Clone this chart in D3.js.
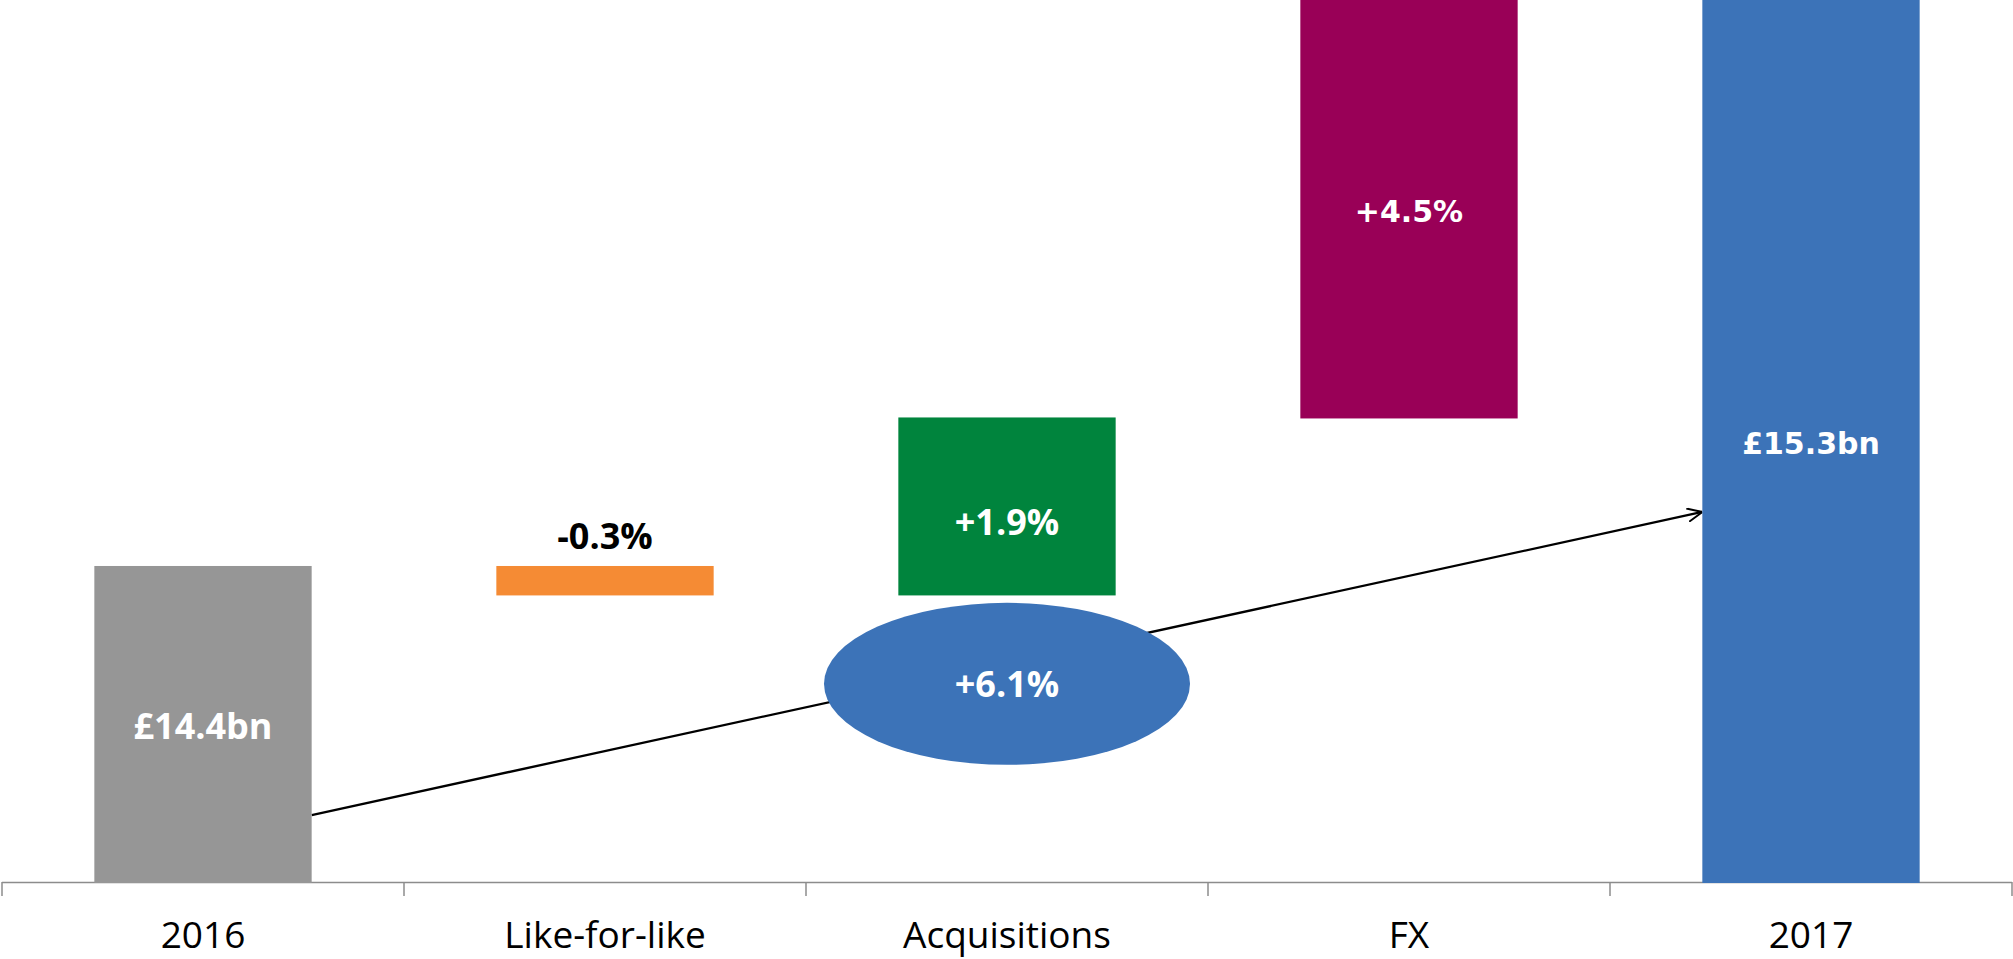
<!DOCTYPE html>
<html>
<head>
<meta charset="utf-8">
<script src="https://cdn.jsdelivr.net/npm/d3@7"></script>
<style>
  body { margin: 0; background: #fff; }
  svg { display: block; }
</style>
</head>
<body>
<div id="chart"></div>
<script>
// 数据（柱的高度是示意值，与标签数值并不成比例）
const categories = ['2016', 'Like-for-like', 'Acquisitions', 'FX', '2017'];
const barStart = [0, 100, 91, 147, 0];
const barEnd = [100, 91, 147, 300, 300];
const barLabels = ['£14.4bn', '-0.3%', '+1.9%', '+4.5%', '£15.3bn'];
const barColors = ['#969696', '#F58B34', '#00843D', '#990057', '#3C73B8'];

// 总增长（椭圆）与箭头
const totalLabel = '+6.1%';
const totalCategory = 'Acquisitions';
const totalLevel = 62.7;
const arrowFrom = 21.2;
const arrowTo = 117.1;

const width = 2013;
const height = 959;
const baseY = 882;

const svg = d3.select('#chart')
  .append('svg')
  .attr('width', width)
  .attr('height', height);

const x = d3.scaleBand()
  .domain(categories)
  .range([2, 2012])
  .paddingInner(0.4594)
  .paddingOuter(0.2297);

const y = d3.scaleLinear()
  .domain([0, 279.1])
  .range([baseY, 0])
  .clamp(true);

const bw = x.bandwidth();

// 坐标轴
const axisColor = '#8c8c8c';
svg.append('line')
  .attr('x1', x.range()[0]).attr('x2', x.range()[1])
  .attr('y1', baseY + 0.5).attr('y2', baseY + 0.5)
  .attr('stroke', axisColor)
  .attr('stroke-width', 1.5);

svg.append('g')
  .selectAll('line')
  .data(d3.range(categories.length + 1))
  .enter()
  .append('line')
  .attr('x1', i => x.range()[0] + i * x.step())
  .attr('x2', i => x.range()[0] + i * x.step())
  .attr('y1', baseY)
  .attr('y2', baseY + 14)
  .attr('stroke', axisColor)
  .attr('stroke-width', 1.5);

const axis = svg.append('g')
  .attr('transform', `translate(0,${baseY})`)
  .call(d3.axisBottom(x).tickSize(0).tickPadding(40));
axis.select('.domain').remove();
axis.selectAll('text')
  .attr('fill', '#000')
  .style('font-family', '"Open Sans", sans-serif')
  .style('font-size', '37px');

// 箭头线
svg.append('defs').append('marker')
  .attr('id', 'arrowhead')
  .attr('viewBox', '0 -5 10 10')
  .attr('refX', 10)
  .attr('refY', 0)
  .attr('orient', 'auto')
  .attr('markerWidth', 6.5)
  .attr('markerHeight', 6.5)
  .append('path')
  .attr('d', 'M 0,-4.5 L 10,0 L 0,4.5')
  .attr('fill', 'none')
  .attr('stroke', '#000')
  .attr('stroke-width', 1.3);

svg.append('line')
  .attr('x1', x('2016') + bw)
  .attr('y1', y(arrowFrom))
  .attr('x2', x('2017'))
  .attr('y2', y(arrowTo))
  .attr('stroke', '#000')
  .attr('stroke-width', 2.3)
  .attr('marker-end', 'url(#arrowhead)');

// 柱
const bars = categories.map((c, i) => ({
  cat: c,
  lo: Math.min(barStart[i], barEnd[i]),
  hi: Math.max(barStart[i], barEnd[i]),
  label: barLabels[i],
  color: barColors[i]
}));

svg.append('g')
  .selectAll('rect')
  .data(bars)
  .enter()
  .append('rect')
  .attr('x', d => x(d.cat))
  .attr('y', d => y(d.hi))
  .attr('width', bw)
  .attr('height', d => y(d.lo) - y(d.hi) + 1)
  .attr('fill', d => d.color);

// 椭圆
const cx = x(totalCategory) + bw / 2;
svg.append('ellipse')
  .attr('cx', cx)
  .attr('cy', y(totalLevel))
  .attr('rx', 183)
  .attr('ry', 81)
  .attr('fill', '#3C73B8');

svg.append('text')
  .attr('x', cx)
  .attr('y', y(totalLevel))
  .attr('dy', '0.36em')
  .attr('text-anchor', 'middle')
  .attr('fill', '#fff')
  .style('font-family', '"Open Sans", sans-serif')
  .style('font-weight', 700)
  .style('font-size', '36px')
  .text(totalLabel);

// 柱标签
const verdanaLike = new Set(['FX', '2017']);
svg.append('g')
  .selectAll('text')
  .data(bars)
  .enter()
  .append('text')
  .attr('x', d => x(d.cat) + bw / 2)
  .attr('y', d => {
    if (d.cat === 'Like-for-like') return y(d.hi) - 30;
    const mid = (y(d.lo) + y(d.hi)) / 2;
    return d.cat === 'Acquisitions' ? mid + 16 : mid + 2;
  })
  .attr('dy', '0.36em')
  .attr('text-anchor', 'middle')
  .attr('fill', d => d.cat === 'Like-for-like' ? '#000' : '#fff')
  .style('font-family', d => verdanaLike.has(d.cat) ? '"DejaVu Sans", sans-serif' : '"Open Sans", sans-serif')
  .style('font-weight', 700)
  .style('font-size', d => verdanaLike.has(d.cat) ? '30px' : '36px')
  .text(d => d.label);
</script>
</body>
</html>
